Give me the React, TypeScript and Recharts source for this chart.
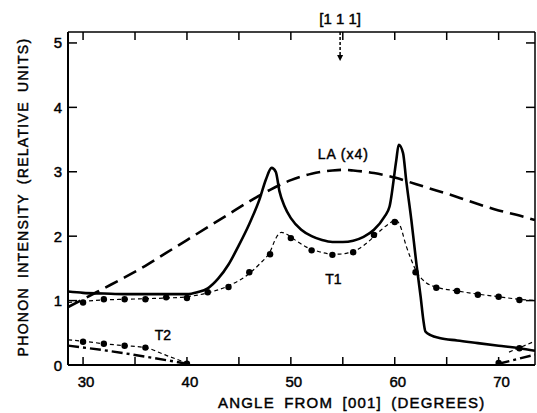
import React from 'react';
import {
  ComposedChart, Line, Scatter, XAxis, YAxis, ReferenceLine, ReferenceDot,
} from 'recharts';

// ---------- data (angle in degrees, intensity in relative units) ----------
const solidCurve: [number, number][] = [
  [28.56, 1.14], [30, 1.12], [32, 1.11], [34, 1.10], [36, 1.10], [38, 1.10], [40, 1.10],
  [41, 1.13], [42, 1.19], [43, 1.34], [44, 1.56], [45, 1.86], [46, 2.19], [47, 2.58],
  [47.6, 2.88], [48.15, 3.06], [48.55, 3.0], [48.9, 2.70], [49.4, 2.46], [50, 2.28],
  [51, 2.10], [52, 2.00], [53, 1.94], [54, 1.91], [55, 1.91], [56, 1.93], [57, 1.99],
  [58, 2.10], [59, 2.30], [59.5, 2.46], [60.15, 3.18], [60.38, 3.42], [60.8, 3.29],
  [61.1, 2.87], [61.6, 2.25], [62.1, 1.55], [62.5, 1.05], [62.75, 0.70], [62.95, 0.52],
  [63.5, 0.46], [64.3, 0.42], [66, 0.38], [68, 0.34], [70, 0.30], [72, 0.26], [73.5, 0.22],
];

const laCurve: [number, number][] = [
  [28.56, 0.90], [30, 1.02], [32, 1.19], [34, 1.36], [36, 1.54], [38, 1.74], [40, 1.94],
  [42, 2.14], [44, 2.34], [46, 2.54], [48, 2.72], [50, 2.87], [52, 2.97], [54, 3.02],
  [55, 3.03], [56, 3.02], [58, 2.98], [60, 2.91], [62, 2.81], [64, 2.71], [66, 2.61],
  [68, 2.50], [70, 2.40], [72, 2.32], [73.5, 2.25],
];

const t1Curve: [number, number][] = [
  [28.56, 0.97], [30, 0.99], [32, 1.01], [34, 1.02], [36, 1.03], [38, 1.04], [40, 1.06],
  [42, 1.12], [44, 1.23], [46, 1.42], [47, 1.57], [48, 1.76], [48.6, 1.98], [49.1, 2.06],
  [49.6, 2.03], [50.5, 1.93], [51.5, 1.83], [52.5, 1.77], [53.5, 1.73], [54.5, 1.72],
  [55.5, 1.74], [56.5, 1.80], [57.5, 1.92], [58.5, 2.07], [59.5, 2.20], [60.1, 2.25],
  [60.5, 2.17], [61.1, 1.85], [61.6, 1.63], [62.1, 1.45], [63, 1.28], [64, 1.21],
  [66, 1.15], [68, 1.10], [70, 1.06], [72, 1.02], [73.5, 1.00],
];

const t1Points: [number, number][] = [
  [30, 0.97], [32, 1.02], [34, 1.02], [36, 1.02], [38, 1.05], [40, 1.04], [42, 1.13],
  [44, 1.21], [46, 1.44], [48, 1.72], [50, 1.97], [52, 1.78], [54, 1.71], [56, 1.75],
  [58, 2.02], [60, 2.22], [62, 1.44], [64, 1.20], [66, 1.15], [68, 1.09], [70, 1.06], [72, 1.01],
];

const t2ShortLeft: [number, number][] = [
  [28.56, 0.39], [30, 0.37], [32, 0.33], [34, 0.30], [36, 0.27], [38, 0.15], [40, 0.03],
];
const t2ShortRight: [number, number][] = [[71, 0.20], [73.5, 0.37]];
const t2LongLeft: [number, number][] = [[28.56, 0.30], [32, 0.23], [36, 0.13], [40, 0.02]];
const t2LongRight: [number, number][] = [[70, 0.02], [73.5, 0.16]];

const t2Points: [number, number][] = [
  [30, 0.36], [32, 0.33], [34, 0.30], [36, 0.27], [40, 0.02], [70, 0.03], [72, 0.26],
];

const xTicks = [30, 35, 40, 45, 50, 55, 60, 65, 70];
const yTicks = [0, 1, 2, 3, 4, 5];
const xDomain: [number, number] = [28.55, 73.5];
const yDomain: [number, number] = [0, 5.17];
const angle111 = 54.74;

const toXY = (arr: [number, number][]) => arr.map(([x, y]) => ({ x, y }));

const FONT = '"Liberation Sans", Arial, sans-serif';
const TXT = { fontFamily: FONT, fill: '#000', stroke: '#000', strokeWidth: 0.45 };

const BottomTick = (props: any) => {
  const { x, y, payload } = props;
  const v = payload.value;
  return (
    <g>
      <line x1={x} x2={x} y1={y} y2={y - 8} stroke="#000" strokeWidth={1.5} />
      {v % 10 === 0 && (
        <text x={x + 3} y={y + 22} textAnchor="middle" fontSize={15} {...TXT}>
          {v}
        </text>
      )}
    </g>
  );
};

const TopTick = (props: any) => {
  const { x, y } = props;
  return <line x1={x} x2={x} y1={y} y2={y + 8} stroke="#000" strokeWidth={1.5} />;
};

const LeftTick = (props: any) => {
  const { x, y, payload } = props;
  return (
    <g>
      <line x1={x} x2={x + 9} y1={y} y2={y} stroke="#000" strokeWidth={1.5} />
      <text x={x - 6} y={y + 5.5} textAnchor="end" fontSize={15} {...TXT}>
        {payload.value}
      </text>
    </g>
  );
};

const RightTick = (props: any) => {
  const { x, y } = props;
  return <line x1={x} x2={x - 9} y1={y} y2={y} stroke="#000" strokeWidth={1.5} />;
};

const Dot = (p: any) => <circle cx={p.cx} cy={p.cy} r={3.2} fill="#000" />;

const ArrowShape = (p: any) => {
  const { x1, y1, x2, y2 } = p;
  return (
    <g>
      <line x1={x1} y1={y1} x2={x2} y2={y2 - 5} stroke="#000" strokeWidth={1.5} strokeDasharray="3 2" />
      <path d={`M ${x2 - 3} ${y2 - 6} L ${x2 + 3} ${y2 - 6} L ${x2} ${y2} Z`} fill="#000" />
    </g>
  );
};

const XTitle = (props: any) => {
  const vb = props.viewBox || { x: 68, y: 365 };
  return (
    <text x={vb.x + 150} y={vb.y + 43} fontSize={15} {...TXT}
      letterSpacing={1.2} wordSpacing={4}>
      ANGLE FROM [001] (DEGREES)
    </text>
  );
};

const YTitle = () => {
  const cx = 23;
  const cy = 197;
  return (
    <text x={cx} y={cy} transform={`rotate(-90 ${cx} ${cy})`} textAnchor="middle"
      dominantBaseline="central" fontSize={14} {...TXT}
      letterSpacing={1.3} wordSpacing={4}>
      PHONON INTENSITY (RELATIVE UNITS)
    </text>
  );
};

const textLabel = (text: string, dy: number, spacing = 0, size = 14) => (p: any) => {
  const vb = p.viewBox || { x: 0, y: 0, width: 0, height: 0 };
  const cx = vb.x + (vb.width || 0) / 2;
  const cy = vb.y + (vb.height || 0) / 2;
  return (
    <text x={cx} y={cy + dy} textAnchor="middle" fontSize={size} {...TXT}
      letterSpacing={spacing}>
      {text}
    </text>
  );
};

export default function App() {
  return (
    <div style={{ position: 'absolute', left: 0, top: 0, background: '#fff' }}>
      <ComposedChart width={537} height={413} margin={{ top: 31, right: 1, bottom: 47, left: 67 }}>
        <XAxis xAxisId={0} type="number" dataKey="x" domain={xDomain} allowDataOverflow
          ticks={xTicks} interval={0} height={1} tickSize={0} tickMargin={0}
          tickLine={false} tick={<BottomTick />} axisLine={{ stroke: '#000', strokeWidth: 2 }}
          label={<XTitle />} />
        <XAxis xAxisId="top" orientation="top" type="number" dataKey="x" domain={xDomain}
          allowDataOverflow ticks={xTicks} interval={0} height={1} tickSize={0} tickMargin={0}
          tickLine={false} tick={<TopTick />} axisLine={{ stroke: '#000', strokeWidth: 1.5 }} />
        <YAxis yAxisId={0} type="number" dataKey="y" domain={yDomain} allowDataOverflow
          ticks={yTicks} interval={0} width={1} tickSize={0} tickMargin={0} tickLine={false}
          tick={<LeftTick />} axisLine={{ stroke: '#000', strokeWidth: 2 }} label={<YTitle />} />
        <YAxis yAxisId="right" orientation="right" type="number" dataKey="y" domain={yDomain}
          allowDataOverflow ticks={yTicks} interval={0} width={1} tickSize={0} tickMargin={0}
          tickLine={false} tick={<RightTick />} axisLine={{ stroke: '#000', strokeWidth: 1.5 }} />

        <Line data={toXY(laCurve)} dataKey="y" type="monotone" stroke="#000" strokeWidth={2.6}
          strokeDasharray="14 7" dot={false} isAnimationActive={false} />
        <Line data={toXY(t1Curve)} dataKey="y" type="monotone" stroke="#000" strokeWidth={1.2}
          strokeDasharray="4 3" dot={false} isAnimationActive={false} />
        <Line data={toXY(solidCurve)} dataKey="y" type="monotone" stroke="#000" strokeWidth={2.6}
          dot={false} isAnimationActive={false} />
        <Line data={toXY(t2ShortLeft)} dataKey="y" type="monotone" stroke="#000" strokeWidth={1.2}
          strokeDasharray="4 3" dot={false} isAnimationActive={false} />
        <Line data={toXY(t2ShortRight)} dataKey="y" type="linear" stroke="#000" strokeWidth={1.2}
          strokeDasharray="4 3" dot={false} isAnimationActive={false} />
        <Line data={toXY(t2LongLeft)} dataKey="y" type="monotone" stroke="#000" strokeWidth={2.4}
          strokeDasharray="11 4 3 4" dot={false} isAnimationActive={false} />
        <Line data={toXY(t2LongRight)} dataKey="y" type="linear" stroke="#000" strokeWidth={2.4}
          strokeDasharray="11 4 3 4" dot={false} isAnimationActive={false} />

        <Scatter data={toXY(t1Points)} dataKey="y" shape={<Dot />} isAnimationActive={false} />
        <Scatter data={toXY(t2Points)} dataKey="y" shape={<Dot />} isAnimationActive={false} />

        <ReferenceLine ifOverflow="visible"
          segment={[{ x: angle111, y: 5.17 }, { x: angle111, y: 4.72 }]}
          shape={<ArrowShape />} />
        <ReferenceDot x={angle111} y={5.17} r={0} ifOverflow="visible" stroke="none"
          label={textLabel('[1 1 1]', -8, 0, 15)} />
        <ReferenceDot x={55.05} y={3.28} r={0} ifOverflow="visible" stroke="none"
          label={textLabel('LA (x4)', 5, 1)} />
        <ReferenceDot x={54.09} y={1.33} r={0} ifOverflow="visible" stroke="none"
          label={textLabel('T1', 5)} />
        <ReferenceDot x={37.69} y={0.46} r={0} ifOverflow="visible" stroke="none"
          label={textLabel('T2', 5)} />
      </ComposedChart>
    </div>
  );
}
